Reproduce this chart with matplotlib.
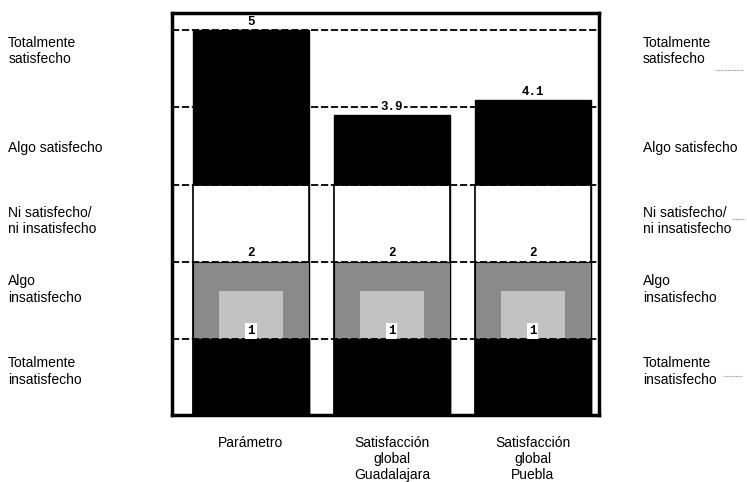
import numpy as np
from matplotlib import pyplot as plt
from matplotlib import transforms

plt.rcParams['font.family'] = ['Liberation Sans', 'DejaVu Sans']

# categories and values
categorias = ["Parámetro", "Satisfacción\nglobal\nGuadalajara", "Satisfacción\nglobal\nPuebla"]
valores = [5, 3.9, 4.1]
neutro = [3, 3, 3]
algo_insat = [2, 2, 2]
total_insat = [1, 1, 1]

niveles = ["Totalmente\ninsatisfecho", "Algo\ninsatisfecho",
           "Ni satisfecho/\nni insatisfecho", "Algo satisfecho",
           "Totalmente\nsatisfecho"]
pos_niveles = [0.58, 1.64, 2.53, 3.48, 4.73]
lineas = [1, 2, 3, 4, 5]

fig = plt.figure(figsize=(7.47, 4.82), dpi=100)
ax = fig.add_axes([0.2303, 0.139, 0.5716, 0.834])

x = np.arange(len(categorias))
w = 0.82

ax.bar(x, valores, w, color="black", edgecolor="black", zorder=2)
ax.bar(x, neutro, w, color="white", edgecolor="black", linewidth=1.2, zorder=3)
ax.bar(x, algo_insat, w, color="#8a8a8a", edgecolor="black", linewidth=0.8, zorder=4)
# lighter centre of the grey band
ax.bar(x, [0.62] * 3, w * 0.55, bottom=total_insat,
       color="#c2c2c2", edgecolor="none", zorder=4)
ax.bar(x, total_insat, w, color="black", edgecolor="black", zorder=5)

num_font = dict(fontsize=9, fontweight="bold", family=["Liberation Mono", "DejaVu Sans Mono"],
                zorder=8)
for xi, v in zip(x, valores):
    ax.annotate(str(v), (xi, v), xytext=(0, 1.5), textcoords="offset points",
                ha="center", va="bottom",
                bbox=dict(boxstyle="square,pad=0.1", fc="white", ec="none"), **num_font)
for xi, v in zip(x, algo_insat):
    ax.annotate(str(v), (xi, v), xytext=(0, 2), textcoords="offset points",
                ha="center", va="bottom", **num_font)
for xi, v in zip(x, total_insat):
    ax.annotate(str(v), (xi, v), xytext=(0, 1.5), textcoords="offset points",
                ha="center", va="bottom",
                bbox=dict(boxstyle="square,pad=0.15", fc="white", ec="none"), **num_font)

for yl in lineas:
    ax.axhline(yl, color="black", linestyle=(0, (4, 1.5)), linewidth=1.3, zorder=6)

ax.set_xlim(-0.56, 2.47)
ax.set_ylim(0.02, 5.22)

for s in ax.spines.values():
    s.set_linewidth(2.5)
    s.set_zorder(9)

ax.set_xticks(x)
ax.set_xticklabels(categorias, fontsize=10, linespacing=1.2)
ax.tick_params(axis="x", length=0, pad=15)
ax.set_yticks([])

# level labels on both sides
izq = transforms.blended_transform_factory(fig.transFigure, ax.transData)
der = ax.get_yaxis_transform()
for yv, txt in zip(pos_niveles, niveles):
    ax.text(0.011, yv, txt, transform=izq, ha="left", va="center",
            fontsize=10, linespacing=1.25)
    ax.text(1.103, yv, txt, transform=der, ha="left", va="center",
            fontsize=10, linespacing=1.25)

# small leader marks after some right-hand labels
for x0, x1, yv in [(1.272, 1.337, 4.48), (1.311, 1.342, 2.55), (1.29, 1.335, 0.52)]:
    ax.plot([x0, x1], [yv, yv], transform=der, color="#a0a0a0",
            linewidth=0.8, linestyle=(0, (1, 0.6)), clip_on=False)

fig.savefig("out.png", dpi=100)
